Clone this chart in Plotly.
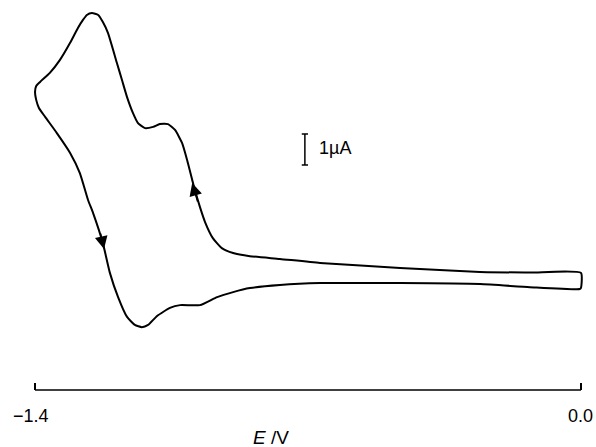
import plotly.graph_objects as go

# Cyclic voltammogram, traced as one closed loop (E in V, I in µA, arbitrary zero)
potential_V = [
    0.000, -0.131, -0.259, -0.464, -0.669, -0.772, -0.849, -0.892, -0.921, -0.944, -0.964,
    -0.977, -0.990, -0.997, -1.010, -1.023, -1.041, -1.059, -1.080, -1.097, -1.118,
    -1.136, -1.149, -1.164, -1.177, -1.190, -1.213, -1.226, -1.238, -1.254, -1.267,
    -1.277, -1.290, -1.310, -1.336, -1.362, -1.387, -1.397, -1.400, -1.397, -1.390,
    -1.374, -1.344, -1.310, -1.285, -1.264, -1.251, -1.226, -1.208, -1.187, -1.164,
    -1.144, -1.126, -1.110, -1.087, -1.054, -1.028, -0.977, -0.933, -0.892, -0.849,
    -0.772, -0.669, -0.464, -0.259, -0.131, -0.003, 0.000, 0.000,
]
current_uA = [
    0.23, 0.24, 0.26, 0.39, 0.55, 0.68, 0.77, 0.87, 1.03, 1.35, 1.87,
    2.35, 2.90, 3.23, 3.87, 4.42, 4.84, 5.03, 5.03, 4.94, 4.90,
    5.06, 5.39, 5.90, 6.45, 7.00, 7.97, 8.32, 8.55, 8.61, 8.55,
    8.39, 8.13, 7.65, 7.10, 6.68, 6.39, 6.26, 6.06, 5.81, 5.55,
    5.26, 4.74, 4.10, 3.45, 2.58, 2.16, 1.19, 0.23, -0.55, -1.19,
    -1.45, -1.52, -1.45, -1.16, -0.90, -0.81, -0.81, -0.55, -0.39, -0.26,
    -0.16, -0.10, -0.10, -0.13, -0.23, -0.29, -0.25, 0.23,
]

tick_values = [-1.4, 0.0]
tick_labels = ["\u22121.4", "0.0"]

# scan-direction arrows: (tail E, tail I, head E, head I)
arrow_down = (-1.233, 1.55, -1.223, 1.00)
arrow_up = (-0.982, 2.48, -0.997, 3.13)

# scale bar: 1 µA
scale_E = -0.708
scale_I = (3.71, 4.71)

fig = go.Figure()
fig.add_trace(go.Scatter(
    x=potential_V, y=current_uA, mode="lines",
    line=dict(color="black", width=2, shape="spline", smoothing=0.5),
    hoverinfo="skip", showlegend=False,
))

for tE, tI, hE, hI in (arrow_down, arrow_up):
    fig.add_annotation(
        x=hE, y=hI, ax=tE, ay=tI, xref="x", yref="y", axref="x", ayref="y",
        text="", showarrow=True, arrowhead=2, arrowsize=1.7, arrowwidth=1.5,
        arrowcolor="black", standoff=0, startstandoff=0,
    )

# scale bar shapes
cap = 0.008
fig.add_shape(type="line", x0=scale_E, x1=scale_E, y0=scale_I[0], y1=scale_I[1],
              xref="x", yref="y", line=dict(color="black", width=1.5))
for yy in scale_I:
    fig.add_shape(type="line", x0=scale_E - cap, x1=scale_E + cap, y0=yy, y1=yy,
                  xref="x", yref="y", line=dict(color="black", width=1.5))
fig.add_annotation(x=scale_E, y=(scale_I[0] + scale_I[1]) / 2 + 0.05, xref="x", yref="y",
                   text="1\u00b5A", showarrow=False, xanchor="left", xshift=12,
                   font=dict(size=18, color="black"))

# axis line between the two end ticks
fig.add_shape(type="line", x0=tick_values[0], x1=tick_values[1], y0=0, y1=0,
              xref="x", yref="paper", line=dict(color="black", width=1.5))

# end tick labels
fig.add_annotation(x=tick_values[0], y=0, xref="x", yref="paper", yshift=-26, xshift=-4,
                   text=tick_labels[0], showarrow=False, xanchor="center", yanchor="middle",
                   font=dict(size=18, color="black"))
fig.add_annotation(x=tick_values[1], y=0, xref="x", yref="paper", yshift=-26, xshift=14,
                   text=tick_labels[1], showarrow=False, xanchor="right", yanchor="middle",
                   font=dict(size=18, color="black"))

fig.add_annotation(x=-0.795, y=0, xref="x", yref="paper", yshift=-47,
                   text="<i>E</i> /V", showarrow=False, yanchor="middle",
                   font=dict(size=19, color="black"))

fig.update_xaxes(
    range=[-1.4103, 0.0103], showgrid=False, zeroline=False, showline=False,
    tickvals=tick_values, ticks="inside", ticklen=7, showticklabels=False,
    tickwidth=1.5, tickcolor="black",
)
fig.update_yaxes(range=[-3.548, 9.032], visible=False)

fig.update_layout(
    width=596, height=447,
    margin=dict(l=31, r=11, t=0, b=57),
    paper_bgcolor="white", plot_bgcolor="white",
    font=dict(family="Liberation Sans, Arial, sans-serif", color="black"),
)

# remove the default page margin so the 596x447 figure fills the window exactly
fig.write_html(
    "out.html",
    config={"displayModeBar": False},
    post_script="document.body.style.margin='0';document.body.style.overflow='hidden';",
)
